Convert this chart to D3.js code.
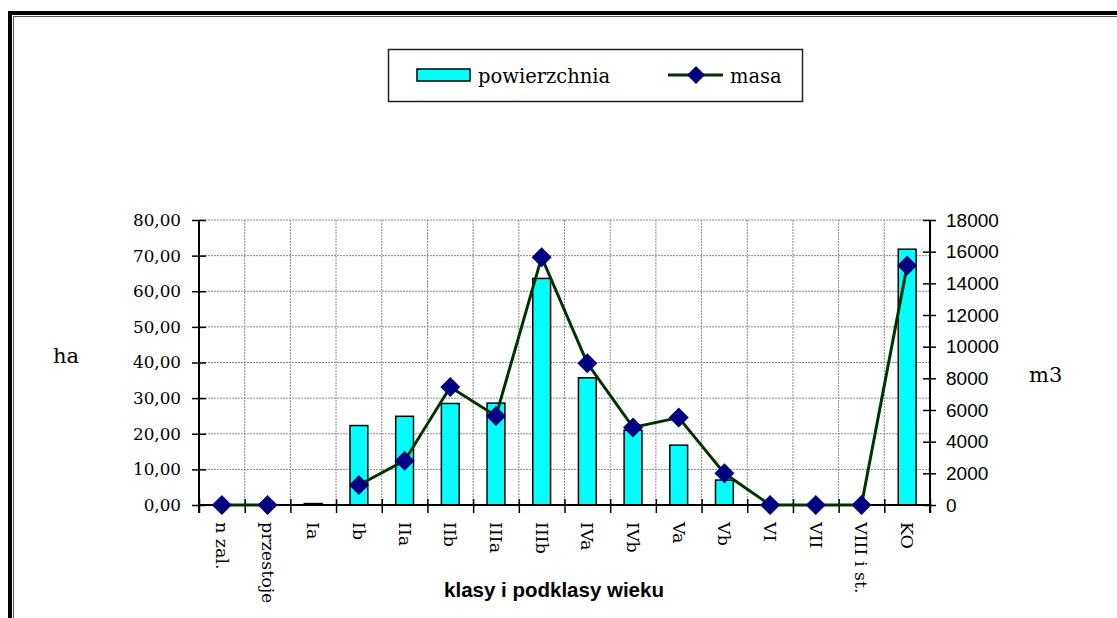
<!DOCTYPE html>
<html><head><meta charset="utf-8">
<script src="https://cdn.jsdelivr.net/npm/d3@7/dist/d3.min.js"></script>
<style>
html,body{margin:0;padding:0;background:#fff;}
svg{display:block;}
</style></head>
<body>
<svg id="chart" width="1117" height="618"></svg>
<script>
const categories = ["n zal.","przestoje","Ia","Ib","IIa","IIb","IIIa","IIIb","IVa","IVb","Va","Vb","VI","VII","VIII i st.","KO"];
const powierzchnia = [0, 0, 0.4, 22.3, 24.9, 28.5, 28.6, 63.6, 35.7, 21.0, 16.8, 7.0, 0, 0, 0, 71.8];
const masa = [0, 0, null, 1260, 2800, 7450, 5620, 15650, 8950, 4900, 5520, 2000, 0, 0, 0, 15120];
const leftTicks = [0,10,20,30,40,50,60,70,80];
const rightTicks = [0,2000,4000,6000,8000,10000,12000,14000,16000,18000];
const seriesNames = ["powierzchnia","masa"];
const xTitle = "klasy i podklasy wieku";
const leftTitle = "ha", rightTitle = "m3";

const svg = d3.select("#chart");
const L = 199, R = 930, T = 220, B = 505;
const serif = "'DejaVu Serif', serif", sans = "'Liberation Sans', Arial, sans-serif";

// border (double frame)
svg.append("rect").attr("x",10).attr("y",13).attr("width",1200).attr("height",700)
  .attr("fill","none").attr("stroke","#000").attr("stroke-width",4);
svg.append("rect").attr("x",13.5).attr("y",16.5).attr("width",1200).attr("height",700)
  .attr("fill","none").attr("stroke","#555").attr("stroke-width",1);

const x = d3.scaleBand().domain(categories).range([L,R]).padding(0);
const xi = d3.scaleLinear().domain([0,categories.length]).range([L,R]);
const yL = d3.scaleLinear().domain([0,80]).range([B,T]);
const yR = d3.scaleLinear().domain([0,18000]).range([B,T]);

// grid
const grid = svg.append("g");
leftTicks.slice(1).forEach(v=>{
  grid.append("line").attr("x1",L).attr("x2",R).attr("y1",yL(v)).attr("y2",yL(v))
    .attr("stroke","#8a8a8a").attr("stroke-width",1).attr("stroke-dasharray","2,1");
});
d3.range(1,categories.length).forEach(i=>{
  grid.append("line").attr("x1",xi(i)).attr("x2",xi(i)).attr("y1",T).attr("y2",B)
    .attr("stroke","#8a8a8a").attr("stroke-width",1).attr("stroke-dasharray","2,1");
});

// bars
const bw = x.bandwidth()*0.39;
svg.append("g").selectAll("rect").data(categories).join("rect")
  .attr("x",d=>x(d)+(x.bandwidth()-bw)/2)
  .attr("y",(d,i)=>yL(powierzchnia[i]))
  .attr("width",bw)
  .attr("height",(d,i)=>Math.max(0,B-yL(powierzchnia[i])))
  .attr("fill","#00FFFF").attr("stroke","#000").attr("stroke-width",1.5);

// axes
const gl = svg.append("g").attr("transform",`translate(${L},0)`)
  .call(d3.axisLeft(yL).tickValues(leftTicks).tickSize(7).tickPadding(11)
    .tickFormat(d=>d.toFixed(2).replace(".",",")));
gl.select(".domain").remove();
gl.selectAll(".tick line").attr("x1",7).attr("x2",-7).attr("stroke","#000").attr("stroke-width",1.5);
gl.selectAll("text").attr("font-family",serif).attr("font-size",16.8).attr("fill","#000");
svg.append("line").attr("x1",L).attr("x2",L).attr("y1",T).attr("y2",B+8).attr("stroke","#000").attr("stroke-width",2);

const gr = svg.append("g").attr("transform",`translate(${R},0)`)
  .call(d3.axisRight(yR).tickValues(rightTicks).tickSize(7).tickPadding(9).tickFormat(d=>d));
gr.select(".domain").remove();
gr.selectAll(".tick line").attr("x1",-7).attr("x2",6).attr("stroke","#000").attr("stroke-width",1.5);
gr.selectAll("text").attr("font-family",sans).attr("font-size",19).attr("fill","#000");
svg.append("line").attr("x1",R).attr("x2",R).attr("y1",T).attr("y2",B+8).attr("stroke","#000").attr("stroke-width",2);

// x axis ticks at boundaries
const gx = svg.append("g").attr("transform",`translate(0,${B})`)
  .call(d3.axisBottom(xi).tickValues(d3.range(0,categories.length+1)).tickSize(8).tickFormat(""));
gx.select(".domain").remove();
gx.selectAll(".tick line").attr("y1",-6).attr("y2",8).attr("stroke","#000").attr("stroke-width",1.5);
svg.append("line").attr("x1",L).attr("x2",R).attr("y1",B).attr("y2",B).attr("stroke","#000").attr("stroke-width",2);

// x labels
const gxl = svg.append("g").attr("transform",`translate(0,${B})`)
  .call(d3.axisBottom(x).tickSize(0).tickPadding(0));
gxl.select(".domain").remove();
gxl.selectAll("text").attr("x",0).attr("y",0).attr("dy",null)
  .attr("transform","translate(0,17) rotate(90)")
  .attr("text-anchor","start").attr("dominant-baseline","central")
  .attr("font-family",serif).attr("font-size",17.5).attr("fill","#000");

// line
const pts = masa.map((v,i)=>({c:categories[i],v}));
svg.append("path").datum(pts)
  .attr("d",d3.line().defined(d=>d.v!=null).x(d=>x(d.c)+x.bandwidth()/2).y(d=>yR(d.v)))
  .attr("fill","none").attr("stroke","#003300").attr("stroke-width",3);
const diamond = s=>`M0,${-s}L${s},0L0,${s}L${-s},0Z`;
svg.append("g").selectAll("path").data(pts.filter(d=>d.v!=null)).join("path")
  .attr("transform",d=>`translate(${x(d.c)+x.bandwidth()/2},${yR(d.v)})`)
  .attr("d",diamond(10)).attr("fill","#000080");

// axis titles
svg.append("text").attr("x",554).attr("y",597).attr("text-anchor","middle")
  .attr("font-family",sans).attr("font-weight","bold").attr("font-size",20.5).text(xTitle);
svg.append("text").attr("x",53).attr("y",363).attr("font-family",serif).attr("font-size",21).text(leftTitle);
svg.append("text").attr("x",1029).attr("y",382).attr("font-family",serif).attr("font-size",21).text(rightTitle);

// legend
const lg = svg.append("g");
lg.append("rect").attr("x",388.5).attr("y",49.5).attr("width",414).attr("height",52)
  .attr("fill","#fff").attr("stroke","#222").attr("stroke-width",1.5);
lg.append("rect").attr("x",417).attr("y",69).attr("width",53).attr("height",12)
  .attr("fill","#00FFFF").attr("stroke","#000").attr("stroke-width",1.5);
lg.append("text").attr("x",478).attr("y",83).attr("font-family",serif).attr("font-size",19.5).text(seriesNames[0]);
lg.append("line").attr("x1",668).attr("x2",723).attr("y1",75).attr("y2",75).attr("stroke","#003300").attr("stroke-width",3);
lg.append("path").attr("transform","translate(696,75)").attr("d",diamond(9)).attr("fill","#000080");
lg.append("text").attr("x",730).attr("y",83).attr("font-family",serif).attr("font-size",19.5).text(seriesNames[1]);
</script>
</body></html>
